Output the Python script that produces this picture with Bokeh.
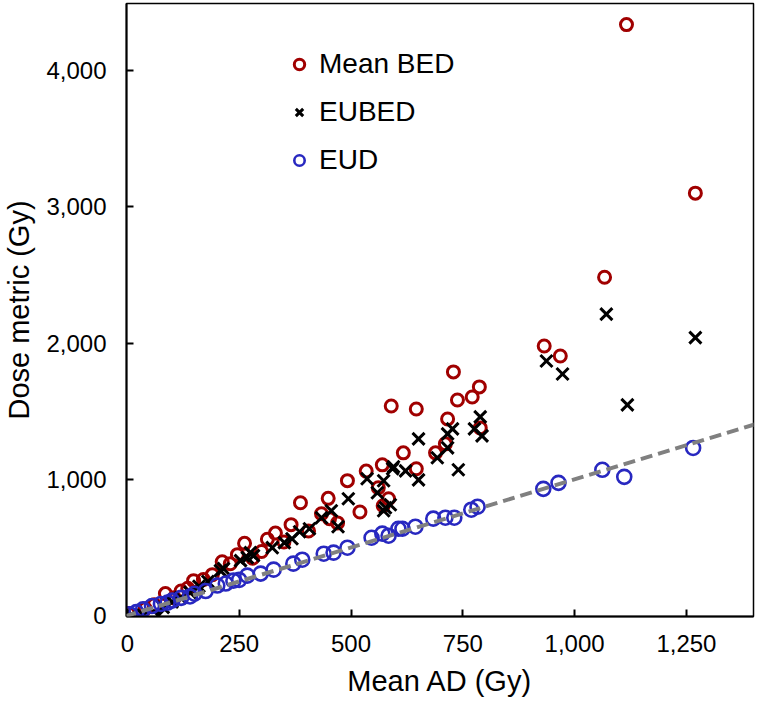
from bokeh.plotting import figure
from bokeh.models import (Range1d, FixedTicker, NumeralTickFormatter, Legend, LegendItem, Slope)
from bokeh.embed import file_html
from bokeh.resources import INLINE

# ---- data ----
bed_x = [1116, 1270, 1067, 932, 968, 729, 787, 771, 738, 590, 646, 716, 789, 711,
         617, 689, 570, 646, 534, 492, 561, 584, 572, 449, 387, 434, 452, 366, 331,
         313, 262, 246, 212, 148, 170, 85, 2, 40, 120, 190, 230, 280, 300, 350, 405,
         470, 520, 60, 105, 135]
bed_y = [4337, 3100, 2483, 1978, 1905, 1788, 1678, 1604, 1582, 1538, 1516, 1443, 1377, 1260,
         1194, 1194, 1106, 1077, 1060, 990, 938, 857, 806, 860, 828, 747, 711, 667, 605,
         560, 530, 447, 395, 256, 265, 161, 15, 50, 180, 300, 380, 420, 470, 540, 620,
         680, 760, 80, 130, 200]

eubed_x = [1071, 1270, 937, 973, 1118, 789, 727, 776, 716, 793, 651, 716, 693, 595, 593,
           740, 622, 536, 651, 573, 559, 494, 588, 577, 573, 456, 434, 471, 407, 385, 368,
           351, 324, 282, 275, 268, 253, 215, 208, 180, 160, 140, 119, 100, 80, 69, 36, 10]
eubed_y = [2212, 2040, 1868, 1773, 1546, 1458, 1370, 1370, 1333, 1319, 1297, 1231, 1158, 1092, 1077,
           1070, 1062, 1004, 996, 989, 901, 857, 813, 791, 769, 769, 718, 652, 637, 615, 564,
           535, 498, 440, 462, 425, 403, 344, 330, 250, 215, 170, 132, 100, 60, 0, 0, 5]

eud_x = [1265, 1111, 1062, 964, 930, 783, 769, 731, 711, 684, 644, 615, 606, 584, 570, 546,
         492, 461, 439, 391, 371, 327, 298, 268, 250, 237, 220, 201, 175, 150, 140, 120,
         100, 90, 75, 55, 35, 20, 5]
eud_y = [1230, 1018, 1070, 974, 930, 799, 777, 718, 718, 711, 652, 637, 637, 586, 601, 571,
         498, 462, 454, 410, 381, 337, 308, 293, 262, 256, 235, 220, 180, 160, 140, 130,
         110, 95, 85, 70, 45, 25, 10]

x_ticks = [0, 250, 500, 750, 1000, 1250]
y_ticks = [0, 1000, 2000, 3000, 4000]
labels = ["Mean BED", "EUBED", "EUD"]

FONT = "Liberation Sans"

p = figure(width=756, height=706, output_backend="svg", toolbar_location=None,
           x_range=Range1d(-2, 1400), y_range=Range1d(-7, 4492),
           min_border_left=126, min_border_right=3, min_border_top=3, min_border_bottom=90)
p.grid.visible = False
p.background_fill_color = "white"
p.outline_line_color = "black"
p.outline_line_width = 1.5

for ax in (p.xaxis[0], p.yaxis[0]):
    ax.axis_line_width = 2
    ax.major_tick_line_width = 2
    ax.major_tick_in = 7
    ax.major_tick_out = 0
    ax.minor_tick_line_color = None
    ax.major_label_text_font = FONT
    ax.major_label_text_font_size = "24px"
    ax.major_label_text_color = "black"
    ax.axis_label_text_font = FONT
    ax.axis_label_text_font_size = "29px"
    ax.axis_label_text_font_style = "normal"
    ax.axis_label_text_color = "black"
    ax.formatter = NumeralTickFormatter(format="0,0")

p.xaxis.ticker = FixedTicker(ticks=x_ticks)
p.yaxis.ticker = FixedTicker(ticks=y_ticks)
p.xaxis.axis_label = "Mean AD (Gy)"
p.yaxis.axis_label = "Dose metric (Gy)"
p.xaxis.major_label_standoff = 18
p.yaxis.major_label_standoff = 20
p.xaxis.axis_label_standoff = 10
p.yaxis.axis_label_standoff = 8

r_bed = p.scatter(bed_x, bed_y, marker="circle", size=12, fill_color=None,
                  line_color="#A00000", line_width=3)
r_eubed = p.scatter(eubed_x, eubed_y, marker="x", size=17, line_color="black", line_width=3)
r_eud = p.scatter(eud_x, eud_y, marker="circle", size=14, fill_color=None,
                  line_color="#2828C0", line_width=2.6)

p.add_layout(Slope(gradient=1, y_intercept=0, line_color="#808080", line_width=4,
                   line_dash="12 6"))

legend = Legend(items=[LegendItem(label=labels[0], renderers=[r_bed]),
                       LegendItem(label=labels[1], renderers=[r_eubed]),
                       LegendItem(label=labels[2], renderers=[r_eud])],
                location=(160, 436), orientation="vertical",
                glyph_width=26, glyph_height=26, label_height=40, spacing=8,
                label_standoff=7, padding=0, margin=0,
                border_line_alpha=0, background_fill_alpha=0,
                label_text_font=FONT, label_text_font_size="28px",
                label_text_color="black")
p.add_layout(legend)

open("out.html", "w").write(file_html(p, INLINE))
